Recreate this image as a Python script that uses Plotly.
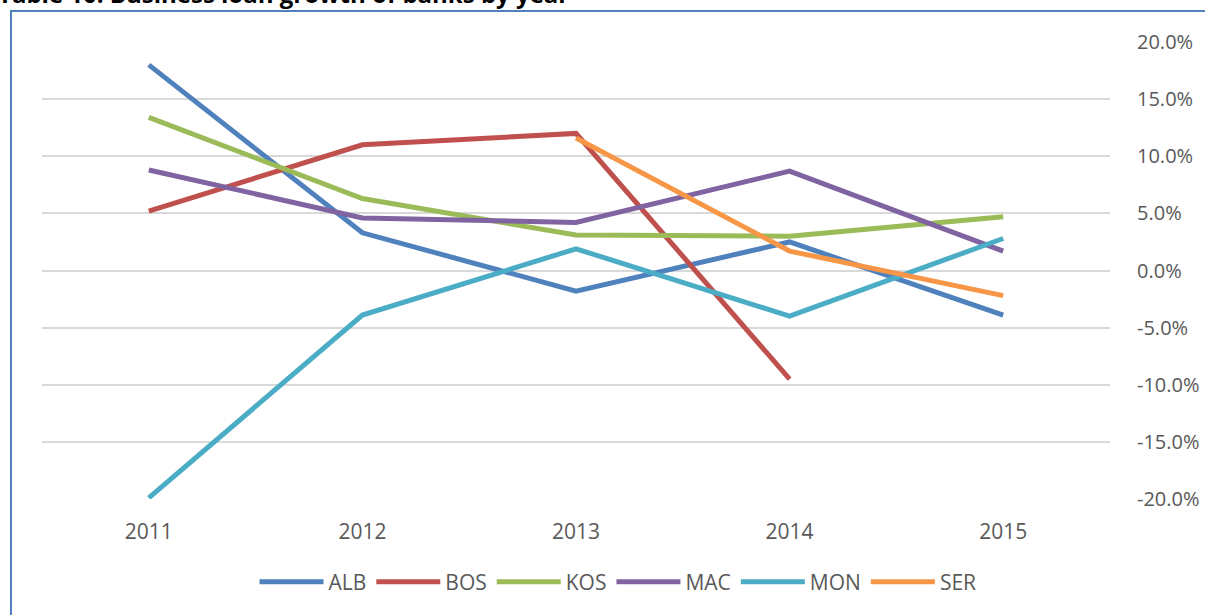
import plotly.graph_objects as go

years = ["2011", "2012", "2013", "2014", "2015"]
alb = [0.180, 0.033, -0.018, 0.025, -0.039]
bos = [0.052, 0.110, 0.120, -0.095, None]
kos = [0.134, 0.063, 0.031, 0.030, 0.047]
mac = [0.088, 0.046, 0.042, 0.087, 0.017]
mon = [-0.199, -0.039, 0.019, -0.040, 0.028]
ser = [None, None, 0.116, 0.017, -0.022]

y_tickvals = [0.20, 0.15, 0.10, 0.05, 0.0, -0.05, -0.10, -0.15, -0.20]
y_ticktext = ["20.0%", "15.0%", "10.0%", "5.0%", "0.0%", "-5.0%", "-10.0%", "-15.0%", "-20.0%"]

series = [
    ("ALB", alb, "#4F81BD"),
    ("BOS", bos, "#C0504D"),
    ("KOS", kos, "#9BBB59"),
    ("MAC", mac, "#8064A2"),
    ("MON", mon, "#4BACC6"),
    ("SER", ser, "#F79646"),
]

FONT = "Open Sans, Liberation Sans, sans-serif"
TXT = "#595959"

fig = go.Figure()
for name, vals, col in series:
    fig.add_trace(go.Scatter(
        x=years, y=vals, name=name, mode="lines",
        line=dict(color=col, width=5), connectgaps=False,
    ))

L, R, T, B = 42, 95, 42, 116
W, H = 1205, 615
pw, ph = W - L - R, H - T - B

def px_x(p):
    return (p - L) / pw

def px_y(p):
    return (H - B - p) / ph

fig.update_layout(
    width=W, height=H,
    margin=dict(l=L, r=R, t=T, b=B, autoexpand=False),
    paper_bgcolor="white", plot_bgcolor="white",
    font=dict(family=FONT, size=21, color=TXT),
    xaxis=dict(
        type="category", range=[-0.5, 4.5], showgrid=False, zeroline=False,
        showline=False, ticks="", tickfont=dict(size=21, color=TXT),
        ticklabelstandoff=18, automargin=False,
    ),
    yaxis=dict(
        side="right", range=[-0.2, 0.2], tickvals=y_tickvals, ticktext=y_ticktext,
        showgrid=True, gridcolor="#D9D9D9", gridwidth=1.5, zeroline=False,
        showline=False, ticks="", tickfont=dict(size=20, color=TXT),
        ticklabelstandoff=26, automargin=False,
    ),
    legend=dict(
        orientation="h", x=px_x(618), xanchor="center", y=px_y(582), yanchor="middle",
        font=dict(size=21, color=TXT), itemwidth=64, tracegroupgap=0,
    ),
    showlegend=True,
    shapes=[dict(
        type="rect", xref="paper", yref="paper",
        x0=px_x(11), x1=px_x(1230), y0=px_y(640), y1=px_y(11),
        line=dict(color="#4F81BD", width=2), fillcolor="rgba(0,0,0,0)", layer="below",
    )],
    annotations=[dict(
        text="<b>Table 10: Business loan growth of banks by year</b>",
        xref="paper", yref="paper", x=px_x(-4), y=px_y(12),
        xanchor="left", yanchor="bottom", showarrow=False,
        font=dict(family=FONT, size=24, color="black"),
    )],
)

fig.write_html(
    "out.html",
    config={"displayModeBar": False},
    post_script="document.body.style.margin='0';document.body.style.overflow='hidden';",
)
